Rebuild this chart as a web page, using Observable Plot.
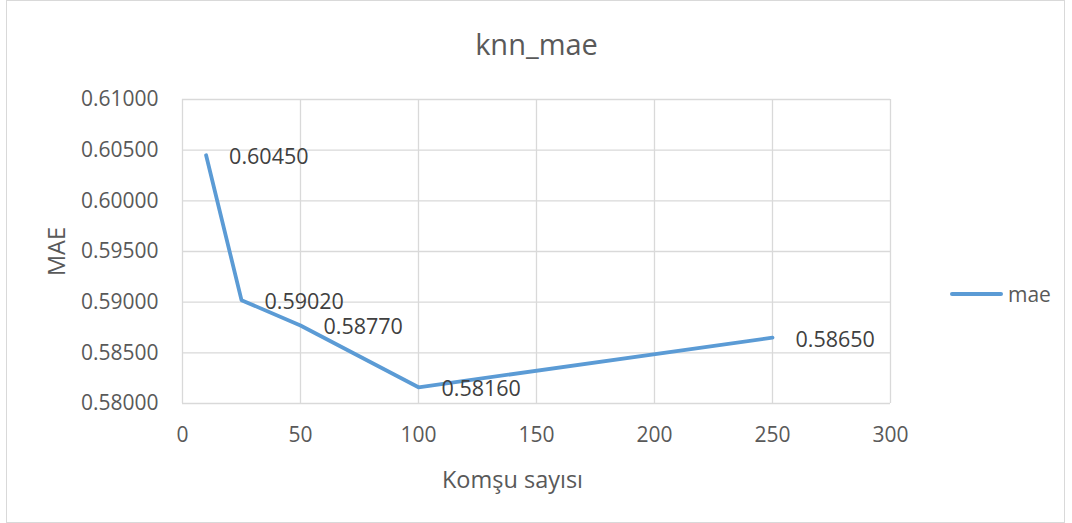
<!DOCTYPE html>
<html>
<head>
<meta charset="utf-8">
<script src="https://cdn.jsdelivr.net/npm/d3@7"></script>
<script src="https://cdn.jsdelivr.net/npm/@observablehq/plot@0.6"></script>
<style>
  html, body { margin: 0; padding: 0; background: #fff; }
  #wrap { position: relative; width: 1072px; height: 523px; font-family: "Open Sans", sans-serif; }
  #border { position: absolute; left: 6px; top: 0px; width: 1057px; height: 521px; border: 1px solid #d9d9d9; box-sizing: content-box; pointer-events: none; }
  #legend { position: absolute; left: 950px; top: 280px; display: flex; align-items: center; color: #595959; font-size: 21px; }
  #legend .sw { width: 53px; height: 4px; background: #5B9BD5; border-radius: 2px; margin-right: 5px; }
</style>
</head>
<body>
<div id="wrap"><div id="border"></div><div id="legend"><div class="sw"></div><span id="legname"></span></div></div>
<script>
const neighbors = [10, 25, 50, 100, 250];
const maeValues = [0.6045, 0.5902, 0.5877, 0.5816, 0.5865];
const xTicks = [0, 50, 100, 150, 200, 250, 300];
const yTicks = [0.58, 0.585, 0.59, 0.595, 0.60, 0.605, 0.61];
const chartTitle = "knn_mae";
const xLabel = "Komşu sayısı";
const yLabel = "MAE";
const seriesName = "mae";

const data = neighbors.map((n, i) => ({n, v: maeValues[i]}));
document.getElementById("legname").textContent = seriesName;

const chart = Plot.plot({
  width: 1072,
  height: 523,
  marginLeft: 182,
  marginRight: 182,
  marginTop: 99,
  marginBottom: 120,
  style: {fontFamily: "Open Sans, sans-serif", background: "transparent", overflow: "visible"},
  x: {domain: [0, 300], ticks: xTicks, label: null},
  y: {domain: [0.58, 0.61], ticks: yTicks, label: null},
  marks: [
    Plot.gridX(xTicks, {stroke: "#d9d9d9", strokeOpacity: 1, strokeWidth: 1.3}),
    Plot.gridY(yTicks, {stroke: "#d9d9d9", strokeOpacity: 1, strokeWidth: 1.3}),
    Plot.axisX(xTicks, {tickSize: 0, tickPadding: 24, fontSize: 21, fill: "#595959", tickFormat: d => String(d)}),
    Plot.axisY(yTicks, {tickSize: 0, tickPadding: 24, fontSize: 21, fill: "#595959", tickFormat: d => d.toFixed(5)}),
    Plot.line(data, {x: "n", y: "v", stroke: "#5B9BD5", strokeWidth: 3.8}),
    Plot.text(data, {x: "n", y: "v", text: d => d.v.toFixed(5), textAnchor: "start", dx: 23, dy: 2, fontSize: 21.5, fill: "#404040"}),
    Plot.text([chartTitle], {frameAnchor: "top", lineAnchor: "middle", dy: -54, fontSize: 29, fill: "#595959"}),
    Plot.text([xLabel], {frameAnchor: "bottom", lineAnchor: "middle", dx: -24, dy: 77, fontSize: 23.5, fill: "#595959"}),
    Plot.text([yLabel], {frameAnchor: "left", textAnchor: "middle", lineAnchor: "middle", dx: -125, rotate: -90, fontSize: 23.5, fill: "#595959"})
  ]
});
document.getElementById("wrap").prepend(chart);
chart.style.position = "absolute";
chart.style.left = "0px";
chart.style.top = "0px";
</script>
</body>
</html>
